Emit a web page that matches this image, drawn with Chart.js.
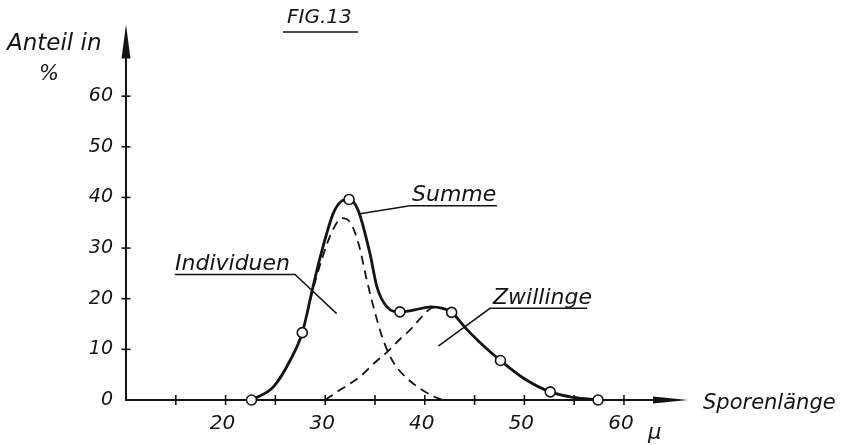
<!DOCTYPE html>
<html>
<head>
<meta charset="utf-8">
<script src="https://cdn.jsdelivr.net/npm/chart.js@4.4.1/dist/chart.umd.min.js"></script>
<style>
  html, body { margin: 0; padding: 0; background: #fff; }
  #wrap { width: 844px; height: 445px; position: relative; }
</style>
</head>
<body>
<div id="wrap"><canvas id="fig"></canvas></div>
<script>
// FIG. 13 - Anteil in % over Sporenlänge (µ)
const sumX = [22.6, 24.8, 26.5, 27.7, 28.7, 29.5, 30.8, 31.6, 32.4, 33.3, 34.5, 35.2, 36.2, 37.5, 39.0, 40.6, 41.8, 42.7, 44.1, 46.0, 47.6, 50.0, 52.6, 55.0, 57.4];
const sumY = [0, 2.6, 7.9, 13.3, 21.7, 28.2, 36.8, 39.2, 39.6, 37.5, 28.9, 22.3, 18.4, 17.4, 17.8, 18.4, 18.1, 17.3, 14.2, 10.5, 7.8, 4.2, 1.6, 0.5, 0];

// Individuen (dashed)
const indX = [22.6, 24.8, 26.5, 27.7, 28.7, 29.7, 30.7, 31.7, 32.6, 33.4, 34.2, 34.9, 35.8, 36.8, 38.2, 39.5, 40.9, 41.8];
const indY = [0, 2.6, 7.9, 13.3, 21.3, 28.0, 33.3, 35.9, 34.8, 30.5, 23.5, 18.0, 12.0, 7.6, 4.3, 2.3, 0.7, 0];

// Zwillinge (dashed)
const twinX = [30.0, 31.5, 33.5, 35.0, 36.4, 37.5, 38.5, 39.5, 40.2, 40.9, 41.8, 42.7, 44.1, 46.0, 47.6, 50.0, 52.6, 55.0, 57.4];
const twinY = [0, 2.0, 4.6, 7.4, 9.8, 12.0, 13.8, 16.0, 17.5, 18.3, 18.1, 17.3, 14.2, 10.5, 7.8, 4.2, 1.6, 0.5, 0];

// measured points (circles)
const circleX = [22.6, 27.7, 32.4, 37.5, 42.7, 47.6, 52.6, 57.4];
const circleY = [0, 13.3, 39.6, 17.4, 17.3, 7.8, 1.6, 0];

const xLabelValues = [20, 30, 40, 50, 60];
const yLabelValues = [0, 10, 20, 30, 40, 50, 60];

const xMin = 10, xMax = 66.43;
const yMin = 0, yMax = 74.17;

const INK = '#141414';
const FONT = 'DejaVu Sans';

function pts(xs, ys) {
    return xs.map((x, i) => ({ x: x, y: ys[i] }));
}

function label(ctx, str, x, y, size, align) {
    ctx.font = 'italic ' + size + 'px "' + FONT + '"';
    ctx.textAlign = align || 'left';
    ctx.textBaseline = 'alphabetic';
    ctx.fillText(str, x, y);
}

function line(ctx, pts, w) {
    ctx.lineWidth = w;
    ctx.beginPath();
    ctx.moveTo(pts[0][0], pts[0][1]);
    for (let i = 1; i < pts.length; i++) ctx.lineTo(pts[i][0], pts[i][1]);
    ctx.stroke();
}

// axes with arrows and crossing tick marks
const axisPlugin = {
    id: 'axisPlugin',
    beforeDatasetsDraw(chart) {
        const ctx = chart.ctx;
        const xs = chart.scales.x, ys = chart.scales.y, area = chart.chartArea;
        const x0 = xs.getPixelForValue(xMin), y0 = ys.getPixelForValue(0);
        ctx.save();
        ctx.strokeStyle = INK;
        ctx.fillStyle = INK;

        line(ctx, [[x0, y0 + 1], [x0, area.top + 20]], 2);
        ctx.beginPath();
        ctx.moveTo(x0, area.top);
        ctx.lineTo(x0 - 4.5, area.top + 34);
        ctx.lineTo(x0 + 4.5, area.top + 34);
        ctx.closePath();
        ctx.fill();

        line(ctx, [[x0 - 1, y0], [area.right - 20, y0]], 2);
        ctx.beginPath();
        ctx.moveTo(area.right, y0);
        ctx.lineTo(area.right - 35, y0 - 3.5);
        ctx.lineTo(area.right - 35, y0 + 3.5);
        ctx.closePath();
        ctx.fill();

        xs.ticks.forEach(t => {
            if (t.value > xMin && t.value <= 60) {
                const p = xs.getPixelForValue(t.value);
                line(ctx, [[p, y0 - 5], [p, y0 + 5]], 1.6);
            }
        });
        ys.ticks.forEach(t => {
            if (t.value > 0 && t.value <= 60) {
                const p = ys.getPixelForValue(t.value);
                line(ctx, [[x0 - 4.5, p], [x0 + 4.5, p]], 1.6);
            }
        });
        ctx.restore();
    },
    afterDraw(chart) {
        const ctx = chart.ctx;
        const xs = chart.scales.x, ys = chart.scales.y;
        const X = v => xs.getPixelForValue(v), Y = v => ys.getPixelForValue(v);
        ctx.save();
        ctx.fillStyle = INK;
        ctx.strokeStyle = INK;

        label(ctx, 'FIG.13', 287, 23, 20);
        line(ctx, [[283, 32], [358, 32]], 1.5);

        label(ctx, 'Anteil in', 7, 50, 23);
        label(ctx, '%', 49, 80, 21, 'center');
        label(ctx, 'Sporenlänge', 703, 409, 21);
        label(ctx, 'μ', 648, 439, 21);

        // Summe
        label(ctx, 'Summe', 412, 201, 22);
        line(ctx, [[X(33.49), Y(36.8)], [X(38.51), Y(38.36)], [X(47.25), Y(38.36)]], 1.5);

        // Individuen
        label(ctx, 'Individuen', 175, 270, 22);
        line(ctx, [[X(14.9), Y(24.79)], [X(26.97), Y(24.79)], [X(31.15), Y(17.06)]], 1.5);

        // Zwillinge
        label(ctx, 'Zwillinge', 493, 304, 22);
        line(ctx, [[X(56.3), Y(18.1)], [X(46.55), Y(18.1)], [X(41.36), Y(10.62)]], 1.5);

        ctx.restore();
    }
};

const tickFont = size => ({ family: FONT, style: 'italic', size: size });

new Chart(document.getElementById('fig'), {
    type: 'line',
    data: {
        datasets: [
            {
                label: 'Messpunkte',
                data: pts(circleX, circleY),
                showLine: false,
                pointRadius: 5,
                pointBackgroundColor: '#fff',
                pointBorderColor: INK,
                pointBorderWidth: 1.6,
                clip: false,
                order: 0
            },
            {
                label: 'Summe',
                data: pts(sumX, sumY),
                borderColor: INK,
                borderWidth: 2.8,
                pointRadius: 0,
                cubicInterpolationMode: 'monotone',
                clip: false,
                order: 1
            },
            {
                label: 'Individuen',
                data: pts(indX, indY),
                borderColor: INK,
                borderWidth: 1.8,
                borderDash: [9, 6],
                pointRadius: 0,
                cubicInterpolationMode: 'monotone',
                clip: false,
                order: 2
            },
            {
                label: 'Zwillinge',
                data: pts(twinX, twinY),
                borderColor: INK,
                borderWidth: 1.8,
                borderDash: [9, 6],
                pointRadius: 0,
                cubicInterpolationMode: 'monotone',
                clip: false,
                order: 3
            }
        ]
    },
    options: {
        responsive: true,
        maintainAspectRatio: false,
        animation: false,
        layout: { padding: { left: 86, right: 156, top: 23, bottom: 0 } },
        plugins: { legend: { display: false }, tooltip: { enabled: false } },
        scales: {
            x: {
                type: 'linear',
                min: xMin,
                max: xMax,
                afterFit: s => { s.height = 45; },
                grid: { display: false, drawTicks: false },
                border: { display: false },
                ticks: {
                    stepSize: 5,
                    includeBounds: false,
                    autoSkip: false,
                    maxRotation: 0,
                    padding: 12,
                    labelOffset: -3,
                    color: INK,
                    font: tickFont(20),
                    callback: v => xLabelValues.includes(v) ? String(v) : ''
                }
            },
            y: {
                type: 'linear',
                min: yMin,
                max: yMax,
                afterFit: s => { s.width = 40; },
                grid: { display: false, drawTicks: false },
                border: { display: false },
                ticks: {
                    stepSize: 10,
                    includeBounds: false,
                    padding: 13,
                    color: INK,
                    font: tickFont(19),
                    callback: v => yLabelValues.includes(v) ? String(v) : ''
                }
            }
        }
    },
    plugins: [axisPlugin]
});
</script>
</body>
</html>
